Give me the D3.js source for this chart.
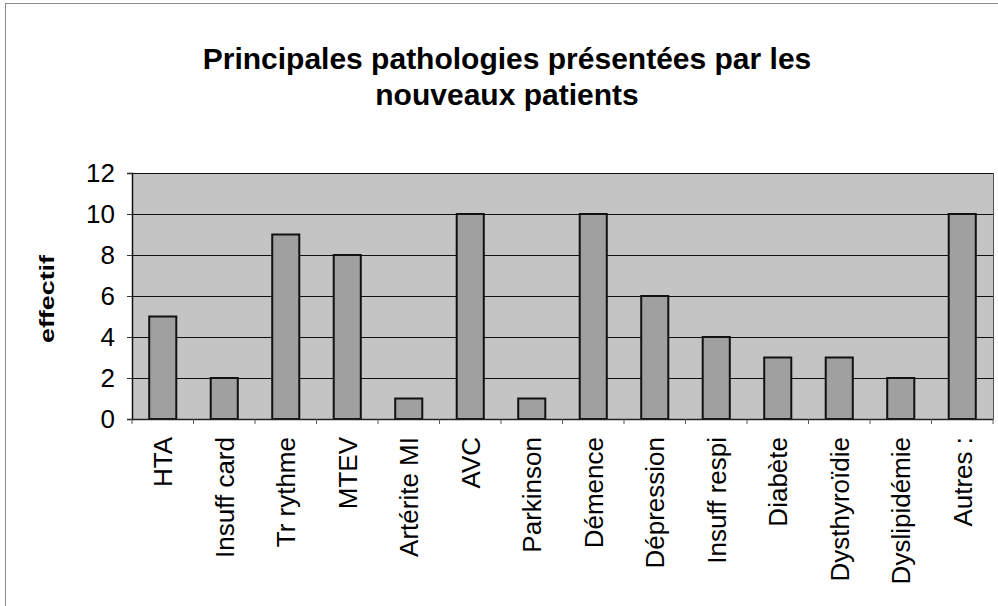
<!DOCTYPE html>
<html>
<head>
<meta charset="utf-8">
<script src="https://cdn.jsdelivr.net/npm/d3@7"></script>
<style>
    body { margin: 0; background: #fff; }
    text { font-family: Arial, "Liberation Sans", sans-serif; }
</style>
</head>
<body>
<svg id="chart"></svg>
<script>
const categories = ["HTA", "Insuff card", "Tr rythme", "MTEV", "Artérite MI", "AVC", "Parkinson",
    "Démence", "Dépression", "Insuff respi", "Diabète", "Dysthyroïdie", "Dyslipidémie", "Autres :"]
const effectifs = [5, 2, 9, 8, 1, 10, 1, 10, 6, 4, 3, 3, 2, 10]
const yTicks = [0, 2, 4, 6, 8, 10, 12]
const titleLines = ["Principales pathologies présentées par les", "nouveaux patients"]
const yLabel = "effectif"

const chart = {
    width: 998,
    height: 606
}
const plot = {
    left: 132,
    right: 993,
    top: 173,
    bottom: 419
}

const svg = d3.select("#chart")
    .attr("width", chart.width)
    .attr("height", chart.height)

// outer frame of the chart
svg.append("rect")
    .attr("x", 5.5)
    .attr("y", 3.5)
    .attr("width", chart.width)
    .attr("height", chart.height)
    .attr("fill", "none")
    .attr("stroke", "#8a8a8a")
    .attr("stroke-width", 1)

const scaleX = d3.scaleBand()
    .domain(categories)
    .range([plot.left, plot.right])
    .paddingInner(0.56)
    .paddingOuter(0.28)

const scaleY = d3.scaleLinear()
    .domain([0, 12])
    .range([plot.bottom, plot.top])

const step = scaleX.step()

// plot background
svg.append("rect")
    .attr("x", plot.left)
    .attr("y", plot.top)
    .attr("width", plot.right - plot.left)
    .attr("height", plot.bottom - plot.top)
    .attr("fill", "#c4c4c4")

// gridlines
svg.append("g")
    .selectAll("line")
    .data(yTicks.slice(1))
    .enter()
    .append("line")
    .attr("x1", plot.left)
    .attr("x2", plot.right)
    .attr("y1", d => Math.round(scaleY(d)) + 0.5)
    .attr("y2", d => Math.round(scaleY(d)) + 0.5)
    .attr("stroke", "#111")
    .attr("stroke-width", 1)

// right border of plot
svg.append("line")
    .attr("x1", plot.right + 0.5)
    .attr("x2", plot.right + 0.5)
    .attr("y1", plot.top)
    .attr("y2", plot.bottom)
    .attr("stroke", "#555")

// bars
svg.append("g")
    .selectAll("rect")
    .data(effectifs)
    .enter()
    .append("rect")
    .attr("x", (d, i) => scaleX(categories[i]))
    .attr("y", d => scaleY(d))
    .attr("width", scaleX.bandwidth())
    .attr("height", d => scaleY(0) - scaleY(d))
    .attr("fill", "#a0a0a0")
    .attr("stroke", "#111")
    .attr("stroke-width", 2)

// y axis
var y_axis = d3.axisLeft()
    .scale(scaleY)
    .tickValues(yTicks)
    .tickSize(5)
    .tickFormat("")

svg.append("g")
    .attr("transform", "translate(" + plot.left + ",0)")
    .call(y_axis)
    .call(g => g.select(".domain").attr("stroke", "#111").attr("stroke-width", 1.5))
    .call(g => g.selectAll(".tick line").attr("stroke", "#333"))

svg.append("g")
    .selectAll("text")
    .data(yTicks)
    .enter()
    .append("text")
    .attr("x", 115)
    .attr("y", d => scaleY(d))
    .attr("dy", "0.36em")
    .attr("text-anchor", "end")
    .attr("font-size", 26)
    .attr("fill", "#000")
    .text(d => d)

// x axis
var x_axis = d3.axisBottom()
    .scale(scaleX)
    .tickSize(0)
    .tickFormat("")

svg.append("g")
    .attr("transform", "translate(0," + plot.bottom + ")")
    .call(x_axis)
    .call(g => g.select(".domain").attr("stroke", "#222").attr("stroke-width", 1.5))

// category boundary ticks
svg.append("g")
    .selectAll("line")
    .data(categories)
    .enter()
    .append("line")
    .attr("x1", d => scaleX(d) - (step - scaleX.bandwidth()) / 2)
    .attr("x2", d => scaleX(d) - (step - scaleX.bandwidth()) / 2)
    .attr("y1", plot.bottom)
    .attr("y2", plot.bottom + 5)
    .attr("stroke", "#555")

svg.append("line")
    .attr("x1", plot.right)
    .attr("x2", plot.right)
    .attr("y1", plot.bottom)
    .attr("y2", plot.bottom + 5)
    .attr("stroke", "#555")

svg.append("g")
    .selectAll("text")
    .data(categories)
    .enter()
    .append("text")
    .attr("transform", d => "translate(" + (scaleX(d) + scaleX.bandwidth() / 2) + "," + (plot.bottom + 18) + ") rotate(-90)")
    .attr("dy", "0.36em")
    .attr("text-anchor", "end")
    .attr("font-size", 26)
    .attr("fill", "#000")
    .text(d => d)

// y axis title
svg.append("text")
    .attr("transform", "translate(46,299) rotate(-90)")
    .attr("dy", "0.36em")
    .attr("text-anchor", "middle")
    .attr("font-size", 21)
    .attr("font-weight", "bold")
    .attr("textLength", 88)
    .attr("lengthAdjust", "spacingAndGlyphs")
    .text(yLabel)

// chart title
svg.append("g")
    .selectAll("text")
    .data(titleLines)
    .enter()
    .append("text")
    .attr("x", 507)
    .attr("y", (d, i) => 69 + i * 36)
    .attr("text-anchor", "middle")
    .attr("font-size", 30)
    .attr("font-weight", "bold")
    .attr("fill", "#000")
    .text(d => d)
</script>
</body>
</html>
